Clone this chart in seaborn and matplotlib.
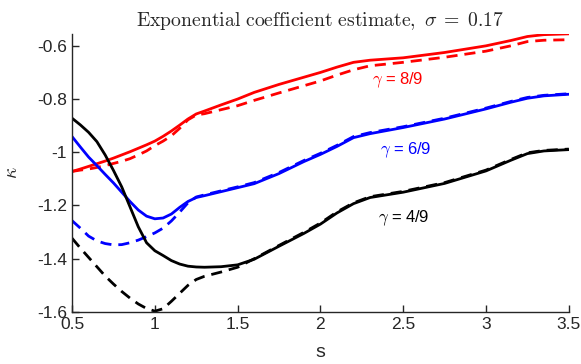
import matplotlib
matplotlib.use("Agg")
import matplotlib.pyplot as plt
import seaborn as sns
import pandas as pd

s = [0.5, 0.55, 0.6, 0.65, 0.7, 0.75, 0.8, 0.85, 0.9, 0.95, 1.0, 1.05, 1.1, 1.15, 1.2, 1.25, 1.3,
     1.4, 1.5, 1.6, 1.75, 1.9, 2.0, 2.1, 2.2, 2.3, 2.5, 2.75, 3.0, 3.15, 3.25, 3.35, 3.5]
red_solid = [-1.072, -1.063, -1.053, -1.043, -1.033, -1.022, -1.01, -0.998, -0.985, -0.972, -0.958,
             -0.94, -0.92, -0.898, -0.875, -0.856, -0.845, -0.822, -0.80, -0.775, -0.745, -0.718,
             -0.70, -0.68, -0.662, -0.654, -0.645, -0.625, -0.60, -0.58, -0.565, -0.558, -0.555]
red_dashed = [-1.072, -1.067, -1.063, -1.057, -1.05, -1.042, -1.034, -1.024, -1.01, -0.995, -0.975,
              -0.958, -0.938, -0.91, -0.878, -0.86, -0.855, -0.84, -0.825, -0.805, -0.777, -0.75,
              -0.732, -0.71, -0.69, -0.675, -0.662, -0.643, -0.62, -0.60, -0.584, -0.579, -0.577]
blue_solid = [-0.941, -0.98, -1.018, -1.05, -1.083, -1.115, -1.15, -1.185, -1.217, -1.24, -1.25,
              -1.247, -1.232, -1.207, -1.185, -1.17, -1.163, -1.148, -1.133, -1.118, -1.08, -1.035,
              -1.008, -0.978, -0.945, -0.93, -0.907, -0.875, -0.837, -0.812, -0.797, -0.788, -0.782]
blue_dashed = [-1.257, -1.285, -1.315, -1.333, -1.343, -1.348, -1.347, -1.34, -1.33, -1.317, -1.303,
               -1.285, -1.258, -1.225, -1.19, -1.168, -1.16, -1.145, -1.13, -1.114, -1.076, -1.031,
               -1.004, -0.974, -0.941, -0.926, -0.904, -0.872, -0.834, -0.809, -0.794, -0.786, -0.78]
black_solid = [-0.872, -0.897, -0.925, -0.96, -1.01, -1.068, -1.13, -1.205, -1.28, -1.34, -1.37,
               -1.388, -1.407, -1.42, -1.428, -1.431, -1.432, -1.43, -1.423, -1.402, -1.353, -1.305,
               -1.27, -1.228, -1.193, -1.17, -1.15, -1.117, -1.07, -1.03, -1.005, -0.995, -0.99]
black_dashed = [-1.323, -1.36, -1.395, -1.43, -1.465, -1.495, -1.523, -1.548, -1.57, -1.587, -1.597,
                -1.588, -1.56, -1.53, -1.50, -1.478, -1.466, -1.45, -1.432, -1.40, -1.35, -1.301,
                -1.266, -1.224, -1.19, -1.167, -1.147, -1.114, -1.067, -1.027, -1.002, -0.993, -0.988]

labels = ["$\\gamma$ = 8/9", "$\\gamma$ = 6/9", "$\\gamma$ = 4/9"]
label_pos = [(2.464, -0.728), (2.51, -0.991), (2.5, -1.248)]
colors = ["#ff0000", "#0000ff", "#000000"]
xticks = [0.5, 1, 1.5, 2, 2.5, 3, 3.5]
xticklabels = ["0.5", "1", "1.5", "2", "2.5", "3", "3.5"]
yticks = [-1.6, -1.4, -1.2, -1.0, -0.8, -0.6]
yticklabels = ["-1.6", "-1.4", "-1.2", "-1", "-0.8", "-0.6"]

sns.set_style("ticks")
plt.rcParams["font.family"] = ["Liberation Sans", "DejaVu Sans"]
plt.rcParams["mathtext.fontset"] = "cm"
plt.rcParams["axes.unicode_minus"] = False

fig = plt.figure(figsize=(5.81, 3.64), dpi=100)
ax = fig.add_axes([0.124, 0.143, 0.855, 0.764])

series = [(red_solid, red_dashed), (blue_solid, blue_dashed), (black_solid, black_dashed)]
for (sol, das), c in zip(series, colors):
    df = pd.DataFrame({"s": s, "solid": sol, "dashed": das})
    sns.lineplot(data=df, x="s", y="dashed", ax=ax, color=c, lw=2.0,
                 linestyle=(0, (4, 2.5)), sort=False)
    sns.lineplot(data=df, x="s", y="solid", ax=ax, color=c, lw=2.0, sort=False)

for lab, (lx, ly), c in zip(labels, label_pos, colors):
    ax.text(lx, ly, lab, color=c, fontsize=12, ha="center", va="center")

ax.set_xlim(0.5, 3.5)
ax.set_ylim(-1.6, -0.555)
ax.set_xticks(xticks)
ax.set_xticklabels(xticklabels)
ax.set_yticks(yticks)
ax.set_yticklabels(yticklabels)
ax.tick_params(direction="in", labelsize=12.5, colors="#262626", length=5, width=1)
for sp in ["left", "bottom"]:
    ax.spines[sp].set_color("#262626")
    ax.spines[sp].set_linewidth(1)
sns.despine(ax=ax)
ax.set_xlabel("s", fontsize=14, color="#262626", labelpad=9)
ax.set_ylabel("$\\kappa$", fontsize=14, color="#262626", labelpad=12)
ax.set_title("$\\mathrm{Exponential\\ coefficient\\ estimate,}\\ \\sigma\\;=\\;0.17$",
             fontsize=14.2, pad=6)

fig.savefig("out.png", dpi=100)
